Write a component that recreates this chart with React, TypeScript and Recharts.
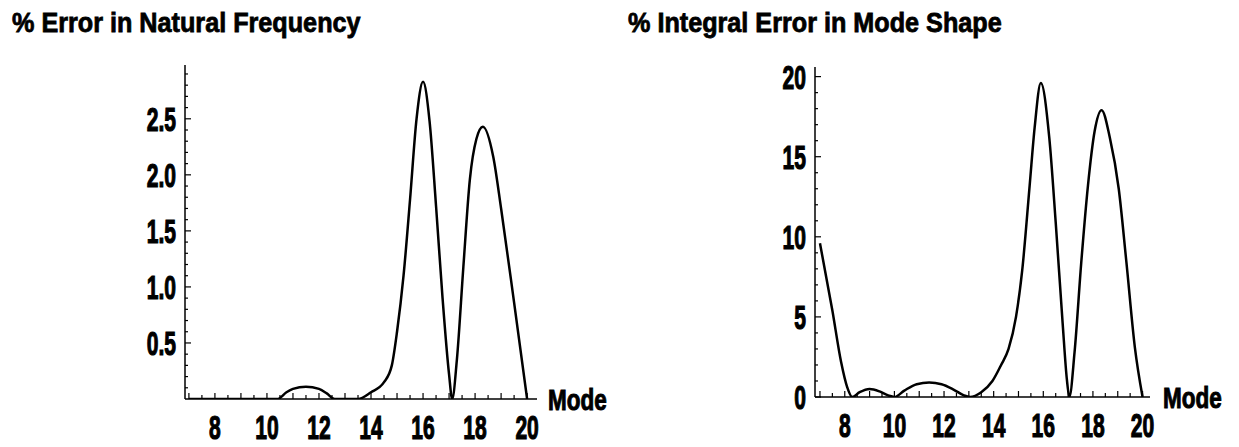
import { LineChart, Line, XAxis, YAxis, Label } from 'recharts';

// mode numbers and errors
const freqModes = [7, 7.5, 8, 8.5, 9, 9.5, 10, 10.4, 10.75, 11, 11.5, 12, 12.3, 12.6, 13, 13.5, 14, 14.5, 14.8, 15, 15.25, 15.5, 15.75, 16, 16.25, 16.5, 16.75, 17, 17.12, 17.3, 17.55, 17.8, 18.05, 18.3, 18.7, 19, 19.5, 20];
const freqError = [0, 0, 0, 0, 0, 0, 0, 0, 0.06, 0.09, 0.11, 0.09, 0.05, 0, 0, 0, 0.06, 0.15, 0.3, 0.6, 1.1, 1.78, 2.5, 2.83, 2.48, 1.72, 0.9, 0.22, 0, 0.35, 1.18, 1.96, 2.32, 2.43, 2.16, 1.7, 0.86, 0];

const shapeModes = [7, 7.5, 7.85, 8.1, 8.3, 8.6, 9, 9.4, 9.75, 10, 10.4, 10.9, 11.4, 11.9, 12.4, 12.8, 13.05, 13.5, 13.95, 14.3, 14.6, 14.9, 15.15, 15.45, 15.65, 15.9, 16.24, 16.5, 16.78, 16.95, 17.05, 17.26, 17.53, 17.8, 18.07, 18.35, 18.68, 19.04, 19.35, 19.69, 20];
const shapeError = [9.6, 5.4, 2.2, 0.6, 0, 0.3, 0.5, 0.35, 0.1, 0, 0.4, 0.8, 0.9, 0.8, 0.45, 0.1, 0, 0.3, 1.0, 2.0, 3.0, 5.0, 7.9, 13.2, 16.8, 19.6, 16.2, 10.9, 4.6, 1.1, 0, 2.8, 8.4, 13.2, 16.6, 17.9, 16.2, 13.0, 8.4, 3.1, 0];

const modeLabels = [8, 10, 12, 14, 16, 18, 20];
const freqLabels = [0.5, 1.0, 1.5, 2.0, 2.5];
const shapeLabels = [0, 5, 10, 15, 20];

const freqTitle = '% Error in Natural Frequency';
const shapeTitle = '% Integral Error in Mode Shape';

const FONT = "'Liberation Sans Narrow', 'Liberation Sans', Arial, sans-serif";

const steps = (from: number, to: number, step: number) => {
  const out: number[] = [];
  for (let i = 0; from + i * step <= to + 1e-9; i++) out.push(+(from + i * step).toFixed(3));
  return out;
};

const near = (list: number[], v: number) => list.some((l) => Math.abs(l - v) < 1e-6);

// squeezed heavy text, the original uses a condensed black face
const Narrow = ({ x, y, sx, size, anchor = 'start', weight = 1, children }: any) => (
  <text
    transform={`translate(${x},${y}) scale(${sx},1)`}
    textAnchor={anchor}
    fontFamily={FONT}
    fontWeight="bold"
    fontSize={size}
    fill="#000"
    stroke="#000"
    strokeWidth={weight}
  >
    {children}
  </text>
);

const ModeTick = (props: any) => {
  const { x, y, payload } = props;
  const labelled = near(modeLabels, payload.value);
  const major = Number.isInteger(payload.value);
  return (
    <g>
      <line x1={x} y1={y} x2={x} y2={y - (major ? 6 : 4)} stroke="#000" strokeWidth={1.2} />
      {labelled && (
        <Narrow x={x} y={y + 40} sx={0.62} size={34} anchor="middle" weight={1.2}>
          {payload.value}
        </Narrow>
      )}
    </g>
  );
};

const makeValueTick = (labels: number[], decimals: number) => (props: any) => {
  const { x, y, payload } = props;
  const major = near(labels, payload.value);
  return (
    <g>
      <line x1={x} y1={y} x2={x + (major ? 6 : 3)} y2={y} stroke="#000" strokeWidth={1.2} />
      {major && (
        <Narrow x={x - 9} y={y + 12} sx={0.62} size={34} anchor="end" weight={1.2}>
          {payload.value.toFixed(decimals)}
        </Narrow>
      )}
    </g>
  );
};

const FreqTick = makeValueTick(freqLabels, 1);
const ShapeTick = makeValueTick(shapeLabels, 0);

const freqData = freqModes.map((m, i) => ({ mode: m, err: freqError[i] }));
const shapeData = shapeModes.map((m, i) => ({ mode: m, err: shapeError[i] }));

const axisLine = { stroke: '#000', strokeWidth: 1.5 };

const ModeLabel = (props: any) => {
  const { viewBox } = props;
  return (
    <Narrow x={viewBox.x + viewBox.width + props.gap} y={viewBox.y + 11} sx={0.75} size={30} weight={1}>
      Mode
    </Narrow>
  );
};

export default function App() {
  return (
    <div style={{ position: 'absolute', left: 0, top: 0, width: 1239, height: 447, background: '#fff', overflow: 'hidden' }}>
      <svg width={1239} height={50} style={{ position: 'absolute', left: 0, top: 0 }}>
        <Narrow x={12} y={32} sx={0.9} size={28} weight={0.8}>{freqTitle}</Narrow>
        <Narrow x={628} y={32} sx={0.9} size={28} weight={0.8}>{shapeTitle}</Narrow>
      </svg>

      <div style={{ position: 'absolute', left: 0, top: 0 }}>
        <LineChart width={620} height={447} data={freqData} margin={{ top: 65, right: 83, bottom: 47, left: 184 }}>
          <XAxis
            dataKey="mode"
            type="number"
            domain={[6.85, 20.38]}
            allowDataOverflow
            ticks={steps(7, 20, 0.5)}
            interval={0}
            tick={<ModeTick />}
            tickLine={false}
            tickSize={0}
            tickMargin={0}
            height={1}
            axisLine={axisLine}
          >
            <Label content={<ModeLabel gap={11} />} position="right" />
          </XAxis>
          <YAxis
            type="number"
            domain={[0, 2.98]}
            allowDataOverflow
            ticks={steps(0.1, 2.9, 0.1)}
            interval={0}
            tick={<FreqTick />}
            tickLine={false}
            tickSize={0}
            tickMargin={0}
            width={1}
            axisLine={axisLine}
          />
          <Line dataKey="err" type="monotone" stroke="#000" strokeWidth={2.5} dot={false} isAnimationActive={false} />
        </LineChart>
      </div>

      <div style={{ position: 'absolute', left: 620, top: 0 }}>
        <LineChart width={619} height={447} data={shapeData} margin={{ top: 67, right: 89, bottom: 49, left: 194 }}>
          <XAxis
            dataKey="mode"
            type="number"
            domain={[6.8, 20.3]}
            allowDataOverflow
            ticks={steps(7, 20, 0.5)}
            interval={0}
            tick={<ModeTick />}
            tickLine={false}
            tickSize={0}
            tickMargin={0}
            height={1}
            axisLine={axisLine}
          >
            <Label content={<ModeLabel gap={13} />} position="right" />
          </XAxis>
          <YAxis
            type="number"
            domain={[0, 20.6]}
            allowDataOverflow
            ticks={steps(0, 20, 1)}
            interval={0}
            tick={<ShapeTick />}
            tickLine={false}
            tickSize={0}
            tickMargin={0}
            width={1}
            axisLine={axisLine}
          />
          <Line dataKey="err" type="monotone" stroke="#000" strokeWidth={2.5} dot={false} isAnimationActive={false} />
        </LineChart>
      </div>
    </div>
  );
}
